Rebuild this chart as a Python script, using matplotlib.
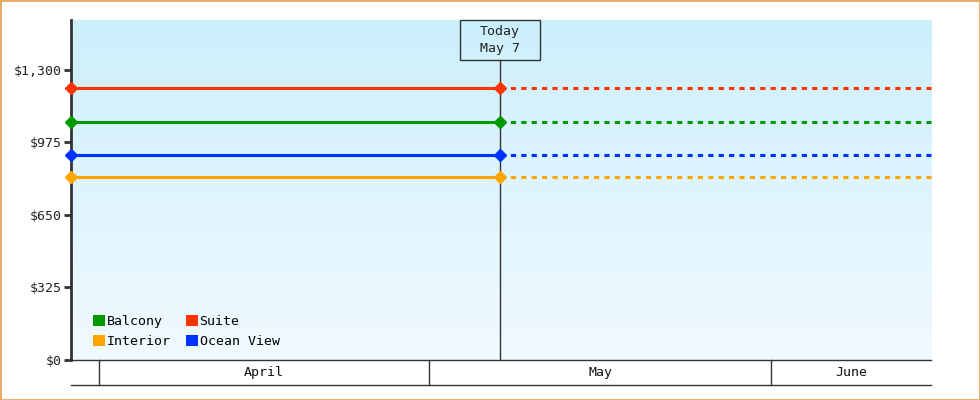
import datetime as dt

import numpy as np
import matplotlib
matplotlib.use('Agg')
import matplotlib.pyplot as plt
import matplotlib.dates as mdates
from matplotlib.patches import Patch, Rectangle
from matplotlib.ticker import FuncFormatter

# cabin prices (flat up to today, then projected)
cabins = ['Balcony', 'Interior', 'Suite', 'Ocean View']
prices = [1067, 820, 1219, 919]
colors = ['#009900', '#FFA500', '#FF3300', '#0033FF']

start = dt.datetime(2024, 3, 29, 12)
today = dt.datetime(2024, 5, 7, 9)
end = dt.datetime(2024, 6, 15, 12)

months = ['April', 'May', 'June']
month_starts = [dt.datetime(2024, 4, 1), dt.datetime(2024, 5, 1), dt.datetime(2024, 6, 1)]
month_ends = [dt.datetime(2024, 5, 1), dt.datetime(2024, 6, 1), dt.datetime(2024, 7, 1)]

yticks = [0, 325, 650, 975, 1300]

dark = '#333333'
plt.rcParams['font.family'] = ['DejaVu Sans Mono']
plt.rcParams['font.size'] = 9.5

fig = plt.figure(figsize=(9.8, 4.0), dpi=100)
ax = fig.add_axes([71 / 980, 40 / 400, 860 / 980, 340 / 400])

# background gradient
grad = np.linspace(0, 1, 256).reshape(-1, 1)
top = np.array([204, 239, 252]) / 255
bot = np.array([241, 250, 255]) / 255
img = top[None, None, :] * (1 - grad[:, :, None]) + bot[None, None, :] * grad[:, :, None]
ax.imshow(img, extent=[0, 1, 0, 1], transform=ax.transAxes, aspect='auto', zorder=0)

for name, p, c in zip(cabins, prices, colors):
    ax.plot([start, today], [p, p], color=c, lw=2.2, marker='D', ms=6.5,
            solid_capstyle='butt', zorder=4, clip_on=False)
    ax.plot([today, end], [p, p], color=c, lw=2.2, linestyle=(0, (1.7, 1.7)),
            zorder=3, clip_on=False)

ax.set_xlim(start, end)
ax.set_ylim(0, max(prices) * 1.25)
ax.set_yticks(yticks)
ax.yaxis.set_major_formatter(FuncFormatter(lambda v, pos: '${:,.0f}'.format(v)))
ax.tick_params(axis='y', length=5, width=2, color=dark, labelcolor='#222222', pad=2)
ax.set_xticks([])

for s in ['top', 'right']:
    ax.spines[s].set_visible(False)
ax.spines['left'].set_linewidth(2)
ax.spines['left'].set_color(dark)
ax.spines['bottom'].set_linewidth(1)
ax.spines['bottom'].set_color(dark)

# today marker and box
box_h = 40 / 340
ax.axvline(today, ymin=0, ymax=1 - box_h, color=dark, lw=1, zorder=2)
x0, x1 = ax.get_xlim()
tx = (mdates.date2num(today) - x0) / (x1 - x0)
bw = 80 / 860
ax.add_patch(Rectangle((tx - bw / 2, 1 - box_h), bw, box_h, transform=ax.transAxes,
                       facecolor='none', edgecolor=dark, lw=1, zorder=5, clip_on=False))
ax.text(tx, 1 - box_h / 2, 'Today\n' + today.strftime('%b ') + str(today.day),
        transform=ax.transAxes, ha='center', va='center', color='#222222',
        linespacing=1.35, zorder=6)

# month band under the axis
trans = ax.get_xaxis_transform()
band = -25 / 340
ax.plot([start, end], [band, band], transform=trans, color=dark, lw=1, clip_on=False)
for m, ms_, me in zip(months, month_starts, month_ends):
    ax.plot([ms_, ms_], [0, band], transform=trans, color=dark, lw=1, clip_on=False)
    a = max(ms_, start)
    b = min(me, end)
    mid = a + (b - a) / 2
    ax.text(mid, band / 2, m, transform=trans, ha='center', va='center', color='#111111')

handles = [Patch(facecolor=c, edgecolor='none') for c in colors]
ax.legend(handles, cabins, ncol=2, loc='lower left', bbox_to_anchor=(0.026, 0.034),
          frameon=False, handlelength=0.9, handleheight=0.9, handletextpad=0.15,
          columnspacing=1.1, labelspacing=0.55, borderpad=0, borderaxespad=0)

fig.patches.append(Rectangle((0, 0), 1, 1, transform=fig.transFigure, fill=False,
                             edgecolor='#E8A860', lw=2))

fig.savefig('out.png', dpi=100)
